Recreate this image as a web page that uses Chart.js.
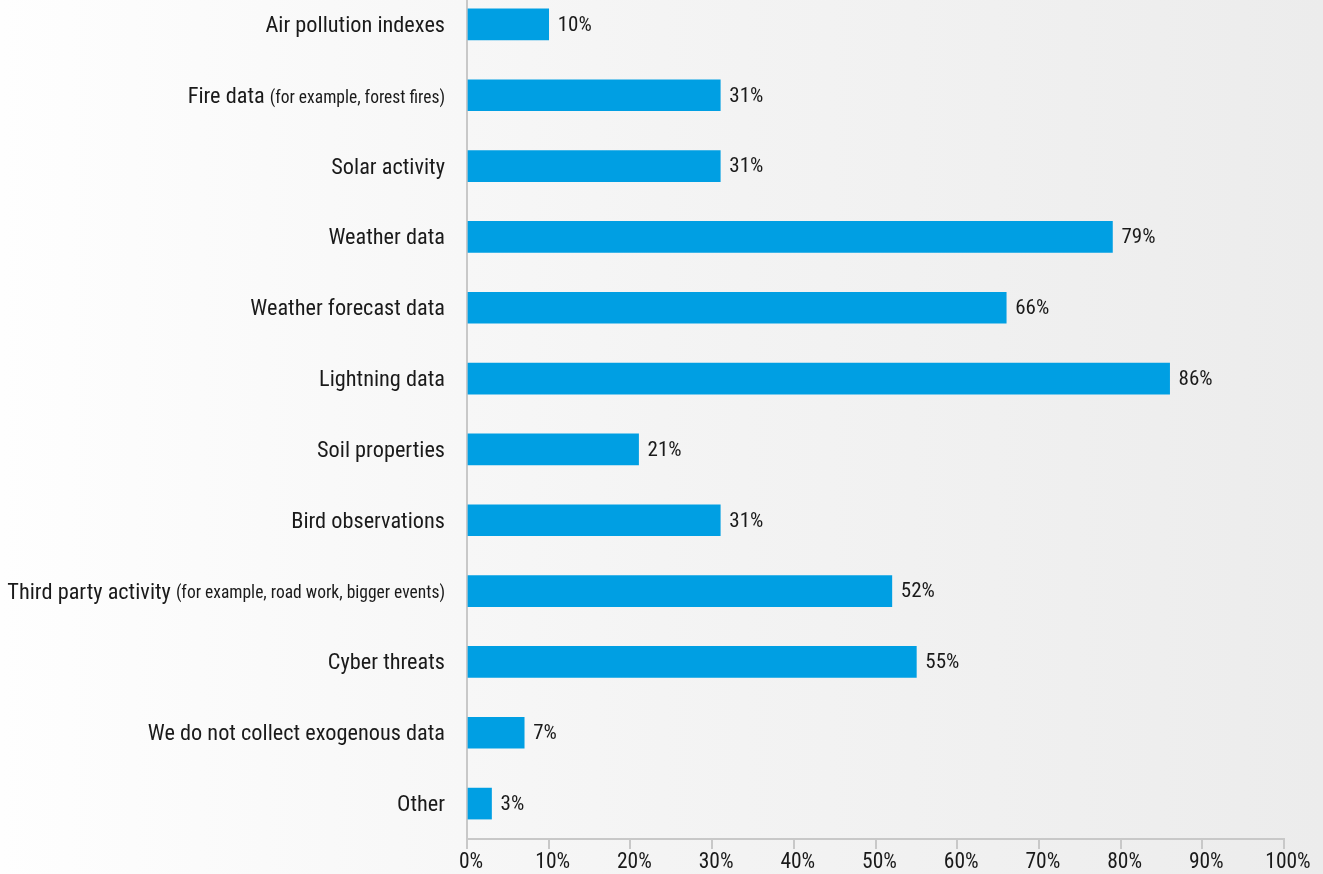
<!DOCTYPE html>
<html>
<head>
<meta charset="utf-8">
<script src="https://cdn.jsdelivr.net/npm/chart.js@4"></script>
<style>
  html, body { margin: 0; padding: 0; width: 1323px; height: 874px; overflow: hidden; }
  body { background: linear-gradient(to right, #fefefe 0%, #f4f4f4 50%, #ececec 100%); }
  #wrap { position: absolute; left: 0; top: -11px; width: 1323px; height: 885px; }
</style>
</head>
<body>
<div id="wrap"><canvas id="chart"></canvas></div>
<script>
// category labels: main text + optional smaller note
const labels = [
  'Air pollution indexes',
  'Fire data',
  'Solar activity',
  'Weather data',
  'Weather forecast data',
  'Lightning data',
  'Soil properties',
  'Bird observations',
  'Third party activity',
  'Cyber threats',
  'We do not collect exogenous data',
  'Other'
]
const notes = ['', '(for example, forest fires)', '', '', '', '', '', '', '(for example, road work, bigger events)', '', '', '']
const values = [10, 31, 31, 79, 66, 86, 21, 31, 52, 55, 7, 3]
const xTicks = [0, 10, 20, 30, 40, 50, 60, 70, 80, 90, 100]

const FONT = "'Roboto Condensed', 'Liberation Sans Narrow', 'DejaVu Sans Condensed', sans-serif"
const TEXT = '#1a1a1a'

// draws the y labels (two sizes) and the value labels next to the bars
const labelPlugin = {
  id: 'labelPlugin',
  afterDatasetsDraw(chart) {
    const ctx = chart.ctx
    const y = chart.scales.y
    const meta = chart.getDatasetMeta(0)
    ctx.save()
    ctx.fillStyle = TEXT
    ctx.textBaseline = 'middle'
    labels.forEach((lab, i) => {
      const py = y.getPixelForValue(i) + 2
      let right = chart.chartArea.left - 22
      if (notes[i]) {
        ctx.font = '17.5px ' + FONT
        ctx.textAlign = 'right'
        ctx.fillText(notes[i], right, py + 1)
        right -= ctx.measureText(notes[i]).width + 5
      }
      ctx.font = '22.3px ' + FONT
      ctx.textAlign = 'right'
      ctx.fillText(lab, right, py)
    })
    ctx.font = '21px ' + FONT
    ctx.textAlign = 'left'
    meta.data.forEach((bar, i) => {
      ctx.fillText(values[i] + '%', bar.x + 9, bar.y + 1)
    })
    ctx.restore()
  }
}

new Chart(document.getElementById('chart'), {
  type: 'bar',
  data: {
    labels: labels,
    datasets: [{
      data: values,
      backgroundColor: '#009fe3',
      barThickness: 31
    }]
  },
  options: {
    indexAxis: 'y',
    responsive: true,
    maintainAspectRatio: false,
    animation: false,
    layout: { padding: { left: 0, right: 39, top: 0, bottom: 0 } },
    plugins: {
      legend: { display: false },
      tooltip: { enabled: false }
    },
    scales: {
      x: {
        min: 0,
        max: 100,
        afterBuildTicks: s => { s.ticks = xTicks.map(v => ({ value: v })) },
        afterFit: s => { s.height = 35 },
        border: { color: '#c8c8c8', width: 2 },
        grid: { drawOnChartArea: false, tickLength: 10, color: '#c8c8c8', lineWidth: 2 },
        ticks: {
          color: TEXT,
          font: { family: FONT, size: 21.5 },
          padding: 1,
          labelOffset: 4,
          maxRotation: 0,
          callback: v => v + '%'
        }
      },
      y: {
        afterFit: s => { s.width = 467 },
        border: { color: '#c8c8c8', width: 2 },
        grid: { display: false },
        ticks: { display: false }
      }
    }
  },
  plugins: [labelPlugin]
})
</script>
</body>
</html>
